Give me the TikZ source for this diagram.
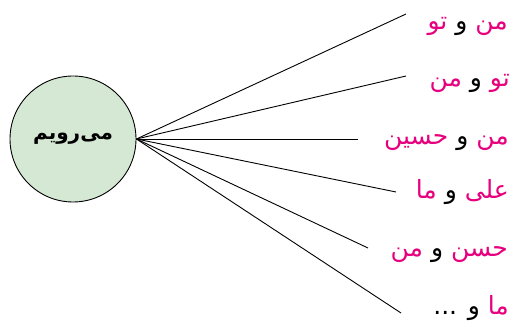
\documentclass[tikz,border=0pt]{standalone}
\usepackage{fontspec}
\TeXXeTstate=1
\newfontfamily\arabicfont[Script=Arabic]{DejaVu Sans}
\definecolor{pk}{RGB}{230,0,126}
\definecolor{lg}{RGB}{213,232,212}
\newcommand\pw[1]{{\color{pk}\beginR #1\endR}}
\newcommand\bw[1]{\beginR #1\endR}
\begin{document}
\begin{tikzpicture}[x=1pt,y=1pt,
  lbl/.style={anchor=base east, inner sep=0pt, font=\arabicfont\fontsize{25}{28}\selectfont},
  conn/.style={draw=black, line width=0.9pt},
  hub/.style={circle, draw=black, line width=0.9pt, fill=lg, minimum size=126pt, inner sep=0pt,
    font=\arabicfont\bfseries\fontsize{20}{24}\selectfont}]
\useasboundingbox (0,0) rectangle (513,326);
\node[hub] (c) at (73,187) {\beginR می‌رویم\endR};
\coordinate (o) at (c.east);
\coordinate (e1) at (406,312);
\coordinate (e2) at (406,250);
\coordinate (e3) at (358,187);
\coordinate (e4) at (396,134);
\coordinate (e5) at (368,78);
\coordinate (e6) at (401,13);
\foreach \i in {1,...,6} { \draw[conn] (o) -- (e\i); }
\node[lbl] (t1) at (508,296) {\pw{تو} \bw{و} \pw{من}};
\node[lbl] (t2) at (510,239) {\pw{من} \bw{و} \pw{تو}};
\node[lbl] (t3) at (509,181) {\pw{حسین} \bw{و} \pw{من}};
\node[lbl] (t4) at (509,127) {\pw{ما} \bw{و} \pw{علی}};
\node[lbl] (t5) at (508,69) {\pw{من} \bw{و} \pw{حسن}};
\node[lbl] (t6) at (509,11) {... \bw{و} \pw{ما}};
\end{tikzpicture}
\end{document}
